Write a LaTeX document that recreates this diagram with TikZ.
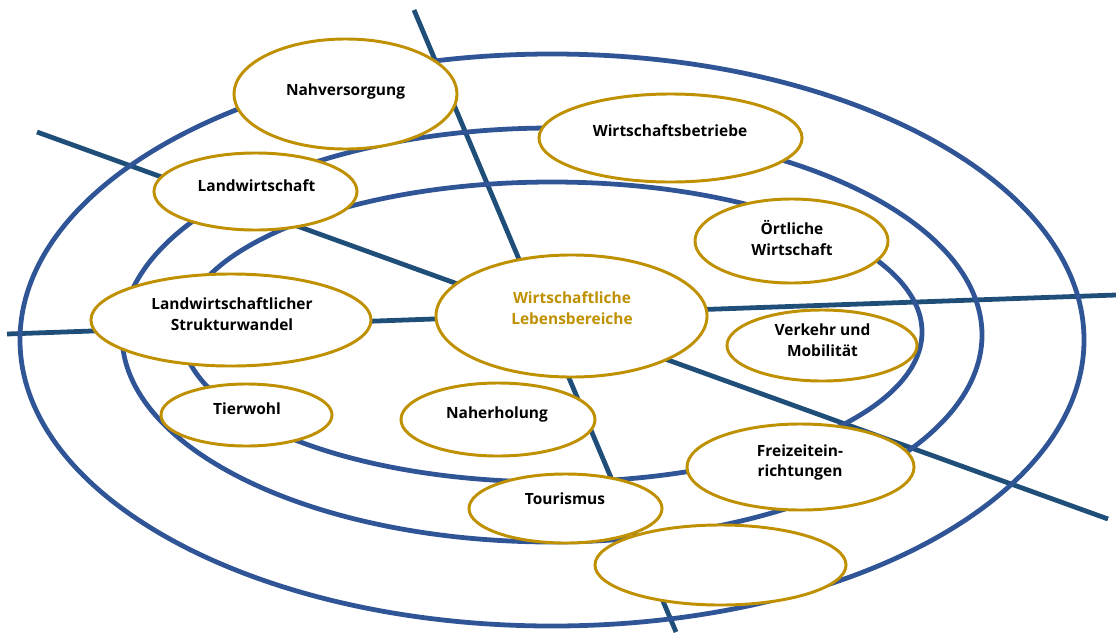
\documentclass[tikz,border=0pt]{standalone}
\usepackage{fontspec}
\setmainfont{Open Sans}
\usetikzlibrary{shapes.geometric}
\definecolor{ringblue}{RGB}{47,85,151}
\definecolor{spokeblue}{RGB}{31,78,121}
\definecolor{gold}{RGB}{191,144,0}
\begin{document}
\begin{tikzpicture}[x=0.025cm,y=-0.025cm,
        bubble/.style={ellipse,draw=gold,line width=2.1pt,fill=white,inner sep=0pt},
        lbl/.style={font=\fontsize{11}{14.8}\selectfont\bfseries,align=center},
        ring/.style={draw=ringblue,line width=3.4pt},
        spoke/.style={draw=spokeblue,line width=3.4pt}]
        \useasboundingbox (0,0) rectangle (1116,632);
        \coordinate (n) at (414,10);
        \coordinate (s) at (676,632);
        \coordinate (nw) at (37,132);
        \coordinate (se) at (1108,519);
        \coordinate (w) at (7,334);
        \coordinate (e) at (1116,295);
        \draw[spoke] (n)--(s);
        \draw[spoke] (nw)--(se);
        \draw[spoke] (w)--(e);
        \foreach \cy/\rx/\ry in {332/370/150,335/430/207,340/532/286}
        {
            \draw[ring] (552,\cy) ellipse [x radius=\rx,y radius=\ry];
        }
        \node[bubble,minimum width=5.575cm,minimum height=2.75cm] (nahv) at (345.5,94){};
        \node[lbl] (nahvtext) at (345.5,91){Nahversorgung};
        \node[bubble,minimum width=6.575cm,minimum height=2.2cm] (betr) at (670.5,138){};
        \node[lbl] (betrtext) at (670,131){Wirtschaftsbetriebe};
        \node[bubble,minimum width=5.075cm,minimum height=1.925cm] (land) at (255.5,191.5){};
        \node[lbl] (landtext) at (256.5,186){Landwirtschaft};
        \node[bubble,minimum width=4.825cm,minimum height=2.1cm] (oertl) at (791.5,241){};
        \node[lbl] (oertltext) at (792,238){Örtliche\\Wirtschaft};
        \node[bubble,minimum width=6.775cm,minimum height=3.05cm] (wirt) at (571.5,316){};
        \node[lbl,text=gold] (wirttext) at (572,308.5){Wirtschaftliche\\Lebensbereiche};
        \node[bubble,minimum width=7cm,minimum height=2.3cm] (struk) at (231,320){};
        \node[lbl] (struktext) at (232,314.5){Landwirtschaftlicher\\Strukturwandel};
        \node[bubble,minimum width=4.75cm,minimum height=1.775cm] (verk) at (822,345.5){};
        \node[lbl] (verktext) at (822.5,340){Verkehr und\\Mobilität};
        \node[bubble,minimum width=4.275cm,minimum height=1.55cm] (tier) at (246.5,415){};
        \node[lbl] (tiertext) at (247,409){Tierwohl};
        \node[bubble,minimum width=4.85cm,minimum height=1.825cm] (naher) at (498,419.5){};
        \node[lbl] (nahertext) at (497,414){Naherholung};
        \node[bubble,minimum width=5.675cm,minimum height=2.15cm] (frei) at (800.5,467){};
        \node[lbl] (freitext) at (800,462.5){Freizeitein-\\richtungen};
        \node[bubble,minimum width=6.275cm,minimum height=2cm] (leer) at (720.5,565){};
        \node[bubble,minimum width=4.825cm,minimum height=1.725cm] (tour) at (565.5,508.5){};
        \node[lbl] (tourtext) at (565,499){Tourismus};
\end{tikzpicture}
\end{document}
